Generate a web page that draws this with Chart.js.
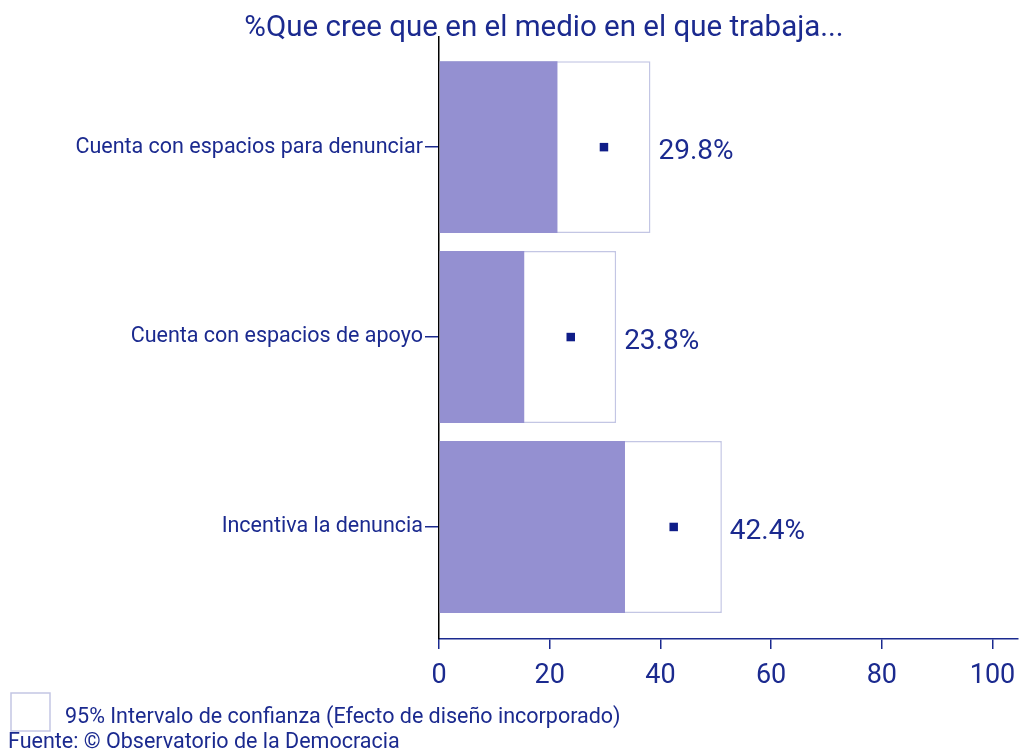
<!DOCTYPE html>
<html lang="es">
<head>
<meta charset="utf-8">
<script src="https://cdn.jsdelivr.net/npm/chart.js@4"></script>
<style>
  body { margin: 0; background: #fff; }
  #wrap { position: relative; width: 1019px; height: 750px; }
</style>
</head>
<body>
<div id="wrap"><canvas id="ciChart"></canvas></div>
<script>
// datos
const categorias = ['Cuenta con espacios para denunciar', 'Cuenta con espacios de apoyo', 'Incentiva la denuncia'];
const estimacion = [29.8, 23.8, 42.4];
const limiteInferior = [21.4, 15.4, 33.6];
const limiteSuperior = [38.2, 32.0, 51.1];
const ticksX = [0, 20, 40, 60, 80, 100];

const tituloTexto = '%Que cree que en el medio en el que trabaja...';
const leyendaTexto = '95% Intervalo de confianza (Efecto de diseño incorporado)';
const fuenteTexto = 'Fuente: © Observatorio de la Democracia';

const azul = '#1b2a8f';
const azulPunto = '#0f1d88';
const lila = '#9490d1';
const bordeCaja = '#c3c6e4';
const fuente = 'Roboto, "Noto Sans", sans-serif';

const toPoints = (arr) => arr.map((v, i) => ({ x: v, y: i }));

// etiquetas, titulo, leyenda y fuente
const extrasPlugin = {
    id: 'extras',
    afterDatasetsDraw(chart) {
        const ctx = chart.ctx;
        const xs = chart.scales.x, ys = chart.scales.y;
        ctx.save();
        ctx.fillStyle = azul;
        ctx.font = '28px ' + fuente;
        ctx.textAlign = 'left';
        ctx.textBaseline = 'middle';
        estimacion.forEach((v, i) => {
            ctx.fillText(v.toFixed(1) + '%', xs.getPixelForValue(limiteSuperior[i]) + 8, ys.getPixelForValue(i) + 5);
        });
        ctx.restore();
    },
    afterDraw(chart) {
        const ctx = chart.ctx;
        ctx.save();
        ctx.fillStyle = azul;
        ctx.font = '29.5px ' + fuente;
        ctx.textAlign = 'center';
        ctx.textBaseline = 'alphabetic';
        ctx.fillText(tituloTexto, 544, 36);

        ctx.strokeStyle = bordeCaja;
        ctx.lineWidth = 1.5;
        ctx.strokeRect(11, 693, 39, 38);

        ctx.textAlign = 'left';
        ctx.font = '21.5px ' + fuente;
        ctx.fillText(leyendaTexto, 65, 723);
        ctx.fillText(fuenteTexto, 8, 748);
        ctx.restore();
    }
};

const ctx = document.getElementById('ciChart').getContext('2d');
const ciChart = new Chart(ctx, {
    data: {
        datasets: [
            {
                type: 'scatter',
                data: toPoints(estimacion),
                pointStyle: 'rect',
                pointRadius: 6,
                pointBackgroundColor: azulPunto,
                pointBorderColor: azulPunto,
                pointBorderWidth: 0,
                order: 0
            },
            {
                type: 'bar',
                data: toPoints(limiteInferior),
                backgroundColor: lila,
                borderWidth: 0,
                grouped: false,
                categoryPercentage: 1,
                barPercentage: 0.905,
                order: 1
            },
            {
                type: 'bar',
                data: toPoints(limiteSuperior),
                backgroundColor: '#ffffff',
                borderColor: bordeCaja,
                borderWidth: 1.5,
                borderSkipped: false,
                grouped: false,
                categoryPercentage: 1,
                barPercentage: 0.905,
                order: 2
            }
        ]
    },
    options: {
        indexAxis: 'y',
        responsive: true,
        maintainAspectRatio: false,
        animation: false,
        layout: { autoPadding: false, padding: { top: 37, right: 1, left: 0, bottom: 0 } },
        plugins: {
            legend: { display: false },
            tooltip: { enabled: false }
        },
        scales: {
            x: {
                type: 'linear',
                min: 0,
                max: 104.6,
                afterBuildTicks: (scale) => { scale.ticks = ticksX.map(v => ({ value: v })); },
                afterFit: (scale) => {
                    scale.height = 111;
                    scale.paddingLeft = 0;
                    scale.paddingRight = 0;
                },
                border: { color: azul, width: 1.5 },
                grid: { drawOnChartArea: false, drawTicks: true, tickLength: 10, color: azul, lineWidth: 1.5 },
                ticks: { color: azul, font: { family: fuente, size: 27 }, padding: 11, maxRotation: 0 }
            },
            y: {
                type: 'linear',
                reverse: true,
                offset: false,
                min: -0.58,
                max: 2.59,
                afterBuildTicks: (scale) => { scale.ticks = categorias.map((c, i) => ({ value: i })); },
                afterFit: (scale) => { scale.width = 439; },
                border: { color: '#000000', width: 1.5 },
                grid: { offset: false, drawOnChartArea: false, drawTicks: true, tickLength: 14, color: azul, lineWidth: 1.5 },
                ticks: {
                    color: azul,
                    font: { family: fuente, size: 21.5 },
                    padding: 2,
                    callback: (v) => categorias[v] || ''
                }
            }
        }
    },
    plugins: [extrasPlugin]
});
</script>
</body>
</html>
